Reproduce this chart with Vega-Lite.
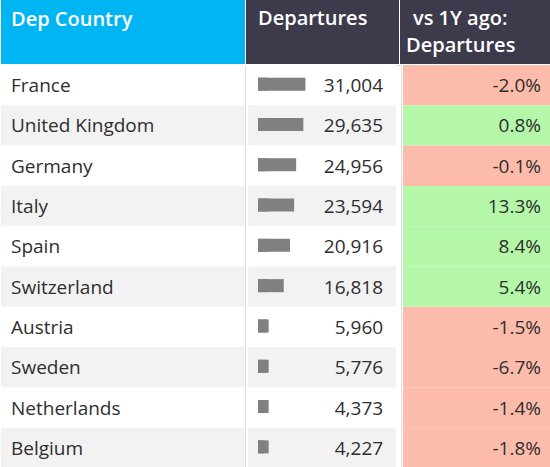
{
  "$schema": "https://vega.github.io/schema/vega-lite/v6.json",
  "padding": 0,
  "background": "white",
  "spacing": 0,
  "config": {
    "view": {"stroke": null},
    "font": "Open Sans",
    "text": {"font": "Open Sans"},
    "locale": {"number": {"decimal": ".", "thousands": ",", "grouping": [3], "currency": ["$", ""], "minus": "-"}}
  },
  "datasets": {
    "rows": [
      {"Country": "France", "Departures": 31004, "Change": -0.020},
      {"Country": "United Kingdom", "Departures": 29635, "Change": 0.008},
      {"Country": "Germany", "Departures": 24956, "Change": -0.001},
      {"Country": "Italy", "Departures": 23594, "Change": 0.133},
      {"Country": "Spain", "Departures": 20916, "Change": 0.084},
      {"Country": "Switzerland", "Departures": 16818, "Change": 0.054},
      {"Country": "Austria", "Departures": 5960, "Change": -0.015},
      {"Country": "Sweden", "Departures": 5776, "Change": -0.067},
      {"Country": "Netherlands", "Departures": 4373, "Change": -0.014},
      {"Country": "Belgium", "Departures": 4227, "Change": -0.018}
    ]
  },
  "vconcat": [
    {
      "spacing": 1,
      "hconcat": [
        {
          "width": 244, "height": 64,
          "view": {"fill": "#00b5f2", "stroke": null},
          "data": {"values": [{"t": "Dep Country"}]},
          "mark": {"type": "text", "align": "left", "baseline": "alphabetic", "dx": 10, "dy": 26, "fontSize": 20, "fontWeight": 600, "color": "white"},
          "encoding": {
            "x": {"datum": 0, "type": "quantitative", "scale": {"domain": [0, 1]}, "axis": null},
            "y": {"datum": 1, "type": "quantitative", "scale": {"domain": [0, 1]}, "axis": null},
            "text": {"field": "t"}
          }
        },
        {
          "width": 153, "height": 64,
          "view": {"fill": "#3d3a4b", "stroke": null},
          "data": {"values": [{"t": "Departures"}]},
          "mark": {"type": "text", "align": "left", "baseline": "alphabetic", "dx": 12, "dy": 25, "fontSize": 20, "fontWeight": 600, "color": "white"},
          "encoding": {
            "x": {"datum": 0, "type": "quantitative", "scale": {"domain": [0, 1]}, "axis": null},
            "y": {"datum": 1, "type": "quantitative", "scale": {"domain": [0, 1]}, "axis": null},
            "text": {"field": "t"}
          }
        },
        {
          "width": 151, "height": 64,
          "view": {"fill": "#3d3a4b", "stroke": null},
          "data": {"values": [{"t1": "vs 1Y ago:", "t2": "Departures"}]},
          "encoding": {
            "x": {"datum": 0, "type": "quantitative", "scale": {"domain": [0, 1]}, "axis": null},
            "y": {"datum": 1, "type": "quantitative", "scale": {"domain": [0, 1]}, "axis": null}
          },
          "layer": [
            {
              "mark": {"type": "text", "align": "left", "baseline": "alphabetic", "dx": 13, "dy": 25, "fontSize": 20, "fontWeight": 600, "color": "white"},
              "encoding": {"text": {"field": "t1"}}
            },
            {
              "mark": {"type": "text", "align": "left", "baseline": "alphabetic", "dx": 6, "dy": 52, "fontSize": 20, "fontWeight": 600, "color": "white"},
              "encoding": {"text": {"field": "t2"}}
            }
          ]
        }
      ]
    },
    {
      "spacing": 1,
      "data": {"name": "rows"},
      "hconcat": [
        {
          "width": 244, "height": 403,
          "view": {"stroke": "#dedede"},
          "transform": [{"window": [{"op": "row_number", "as": "idx"}]}],
          "encoding": {
            "y": {"field": "Country", "type": "nominal", "sort": null, "scale": {"paddingInner": 0, "paddingOuter": 0}, "axis": null},
            "x": {"datum": 0, "type": "quantitative", "scale": {"domain": [0, 1]}, "axis": null}
          },
          "layer": [
            {
              "mark": {"type": "rect"},
              "encoding": {
                "x2": {"datum": 1},
                "color": {"condition": {"test": "datum.idx % 2 === 0", "value": "#f2f2f2"}, "value": "#ffffff"}
              }
            },
            {
              "mark": {"type": "text", "align": "left", "baseline": "middle", "dx": 10, "dy": 1, "fontSize": 19, "color": "#2e2e2e"},
              "encoding": {"text": {"field": "Country"}}
            }
          ]
        },
        {
          "width": 153, "height": 403,
          "view": {"stroke": "#dedede"},
          "transform": [{"window": [{"op": "row_number", "as": "idx"}]}],
          "encoding": {
            "y": {"field": "Country", "type": "nominal", "sort": null, "scale": {"paddingInner": 0, "paddingOuter": 0}, "axis": null}
          },
          "layer": [
            {
              "mark": {"type": "rect"},
              "encoding": {
                "x": {"datum": 0, "type": "quantitative", "scale": {"domain": [0, 96808]}, "axis": null},
                "x2": {"datum": 96808},
                "color": {"condition": {"test": "datum.idx % 2 === 0", "value": "#f2f2f2"}, "value": "#ffffff"}
              }
            },
            {
              "mark": {"type": "bar", "height": 13, "color": "#808080", "xOffset": 10, "x2Offset": 10, "yOffset": -1},
              "encoding": {
                "x": {"datum": 0, "type": "quantitative"},
                "x2": {"datum": 6960}
              }
            },
            {
              "mark": {"type": "bar", "height": 13, "color": "#808080", "xOffset": 10, "x2Offset": 10, "yOffset": -1},
              "encoding": {
                "x": {"field": "Departures", "type": "quantitative"}
              }
            },
            {
              "mark": {"type": "text", "align": "right", "baseline": "middle", "dx": -13, "dy": 1, "fontSize": 19, "color": "#2e2e2e"},
              "encoding": {
                "x": {"datum": 96808, "type": "quantitative"},
                "text": {"field": "Departures", "type": "quantitative", "format": ","}
              }
            }
          ]
        },
        {
          "width": 151, "height": 403,
          "encoding": {
            "y": {"field": "Country", "type": "nominal", "sort": null, "scale": {"paddingInner": 0, "paddingOuter": 0}, "axis": null},
            "x": {"datum": 0, "type": "quantitative", "scale": {"domain": [0, 1]}, "axis": null}
          },
          "layer": [
            {
              "mark": {"type": "rect"},
              "encoding": {
                "x2": {"datum": 1},
                "color": {"condition": {"test": "datum.Change < 0", "value": "#fdbcab"}, "value": "#b4f7a9"}
              }
            },
            {
              "mark": {"type": "text", "align": "right", "baseline": "middle", "dx": 138, "dy": 1, "fontSize": 19, "color": "#2e2e2e"},
              "encoding": {"text": {"field": "Change", "type": "quantitative", "format": ".1%"}}
            }
          ]
        }
      ]
    }
  ]
}
